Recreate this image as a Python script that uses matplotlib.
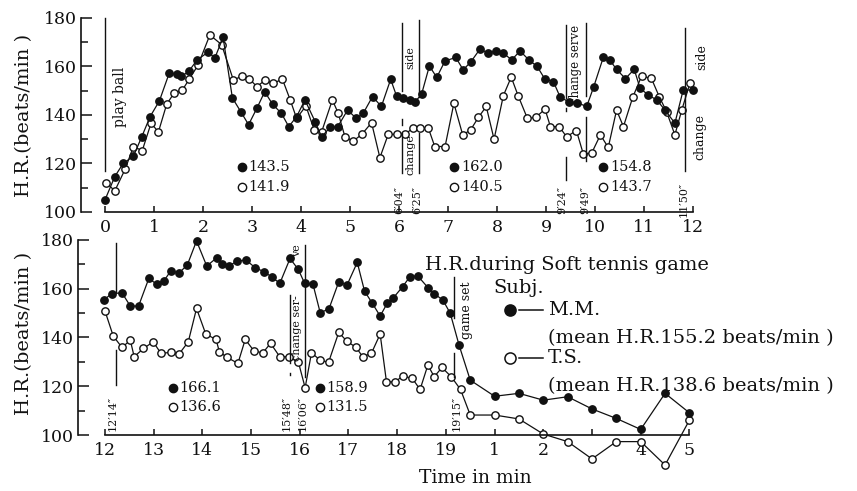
import numpy as np
import matplotlib
matplotlib.use("Agg")
import matplotlib.pyplot as plt
from matplotlib.lines import Line2D

# ---- data ------------------------------------------------------------------
# first half of the game (0-12 min), subject M.M. (filled) and T.S. (open)
t_mm_1 = [0.0, 0.2, 0.37, 0.58, 0.75, 0.92, 1.11, 1.31, 1.46, 1.56, 1.71, 1.88,
          2.11, 2.24, 2.41, 2.6, 2.77, 2.93, 3.1, 3.26, 3.42, 3.6, 3.75, 3.91,
          4.08, 4.29, 4.42, 4.6, 4.75, 4.95, 5.13, 5.27, 5.46, 5.64, 5.83, 5.95,
          6.09, 6.22, 6.33, 6.46, 6.62, 6.77, 6.94, 7.16, 7.31, 7.47, 7.65, 7.82,
          7.97, 8.13, 8.3, 8.47, 8.65, 8.82, 8.98, 9.15, 9.29, 9.46, 9.63, 9.83,
          9.97, 10.17, 10.3, 10.44, 10.62, 10.8, 10.92, 11.09, 11.26, 11.43,
          11.63, 11.8, 12.0]
hr_mm_1 = [105, 114.6, 120, 123, 131, 139.3, 145.8, 157.2, 157, 155.9, 158, 162.7,
           166, 163.4, 172, 147, 141.4, 136, 142.8, 149.6, 144.4, 140.7, 135.2, 139.3,
           146.2, 137.2, 131, 135, 135.2, 142, 138.6, 140.7, 147.6, 143.5, 154.7, 147.8,
           147.2, 146.2, 145.5, 148.5, 160.2, 155.5, 162.3, 163.7, 158.6, 162, 167.1, 165.5,
           166.4, 165.5, 162.7, 166.4, 162.7, 160, 154.7, 153.8, 147.3, 145.5, 145.1, 143.5,
           151.4, 163.8, 162.7, 158.8, 155, 158.8, 151, 148.2, 146.2, 142,
           136.6, 150.3, 150.3]
t_ts_1 = [0.03, 0.2, 0.41, 0.58, 0.76, 0.94, 1.09, 1.26, 1.41, 1.58, 1.72, 1.9,
          2.14, 2.38, 2.62, 2.79, 2.94, 3.1, 3.27, 3.43, 3.62, 3.78, 3.91, 4.1,
          4.27, 4.42, 4.64, 4.76, 4.9, 5.07, 5.24, 5.44, 5.61, 5.78, 5.95, 6.12,
          6.28, 6.43, 6.6, 6.73, 6.94, 7.12, 7.3, 7.46, 7.62, 7.78, 7.94, 8.13,
          8.29, 8.43, 8.62, 8.79, 8.98, 9.09, 9.27, 9.42, 9.62, 9.76, 9.93, 10.11,
          10.27, 10.44, 10.58, 10.77, 10.95, 11.15, 11.31, 11.46, 11.63, 11.77, 11.94]
hr_ts_1 = [112, 108.7, 117.6, 127, 125.3, 136.6, 133, 144.5, 149, 150.3, 154.8, 160.6,
           173, 169, 154.4, 156, 155, 151.7, 154.4, 153, 154.8, 146.2, 138.6, 143.7,
           133.8, 133, 146.2, 140.7, 130.8, 129.3, 132, 136.8, 122.4, 132, 132, 132,
           134.5, 134.5, 134.5, 127, 127, 144.8, 131.8, 133.8, 139, 143.5, 130, 148,
           155.6, 148, 138.6, 139, 142.4, 135.2, 135.2, 131, 133.6, 124, 124.2, 131.8,
           126.6, 142, 135.2, 147.3, 156, 155.1, 147.6, 141.4, 131.8, 142, 153.3]

# second half of the game (12-19'15")
t_mm_2 = [11.97, 12.14, 12.35, 12.52, 12.69, 12.9, 13.06, 13.21, 13.35, 13.52,
          13.69, 13.88, 14.09, 14.3, 14.4, 14.55, 14.71, 14.9, 15.08, 15.27,
          15.42, 15.59, 15.8, 15.97, 16.1, 16.27, 16.42, 16.6, 16.8, 16.97,
          17.18, 17.33, 17.49, 17.65, 17.8, 17.91, 18.11, 18.26, 18.42, 18.63,
          18.76, 18.94, 19.09, 19.27]
hr_mm_2 = [155.3, 158, 158.3, 152.9, 152.9, 164.2, 161.9, 163.2, 167.3, 166.5,
           169.7, 179.6, 169.3, 172.8, 170.1, 169.3, 171.4, 171.7, 168.7, 166.9,
           164.9, 162.2, 172.4, 167.9, 162.2, 161.9, 150.1, 151.8, 162.8, 161.5,
           170.8, 159, 154, 148.8, 154.2, 156, 160.8, 164.9, 165.3, 160.5,
           158, 155.3, 149.9, 136.9]
t_ts_2 = [12.0, 12.17, 12.35, 12.52, 12.6, 12.79, 12.99, 13.15, 13.35, 13.52,
          13.71, 13.88, 14.07, 14.28, 14.35, 14.51, 14.73, 14.88, 15.06, 15.24,
          15.4, 15.59, 15.78, 15.97, 16.11, 16.24, 16.42, 16.59, 16.8, 16.97,
          17.16, 17.29, 17.47, 17.65, 17.78, 17.96, 18.11, 18.31, 18.47, 18.63,
          18.76, 18.92, 19.11, 19.3]
hr_ts_2 = [150.9, 140.6, 135.9, 138.9, 132.1, 135.5, 138.2, 133.5, 133.9, 133.2,
           138.2, 151.9, 141.4, 139.2, 134.1, 131.8, 129.4, 139.2, 134.5, 133.7,
           137.6, 132.1, 132.1, 130, 119.4, 133.7, 130.7, 129.8, 142.1, 138.4,
           135.9, 132.1, 133.5, 141.4, 121.8, 121.8, 124.2, 123.2, 118.7, 128.7,
           123.9, 127.7, 123.9, 118.7]

# recovery after game set (min after the end)
t_rec = [0.5, 1.0, 1.5, 2.0, 2.5, 3.0, 3.5, 4.0, 4.5, 5.0]
hr_mm_rec = [122.5, 115.9, 117.1, 114.3, 115.7, 110.7, 106.8, 102.3, 117.1, 109.1]
hr_ts_rec = [108.2, 108.2, 106.6, 100.4, 97.3, 90.2, 97.3, 97.3, 87.7, 106.1]
game_end = 19

# section means (M.M., T.S.)
means_top = [(2.79, "143.5", "141.9"), (7.12, "162.0", "140.5"), (10.17, "154.8", "143.7")]
means_bot = [(13.39, "166.1", "136.6"), (16.41, "158.9", "131.5")]

xt_top = list(range(0, 13))
xt_bot = list(range(12, 20)) + [game_end + r for r in range(1, 6)]
xl_bot = [str(v) for v in range(12, 20)] + ["1", "2", "", "4", "5"]

# event markers: time, line pieces (hr from, hr to), time label
ev_top = [(6.067, [(150, 178), (136, 138.5), (116, 132.5)], "6′04″", 6.0),
          (6.417, [(147.5, 179), (116, 132.5)], "6′25″", 6.38),
          (9.4, [(147, 177), (141.5, 143), (113, 122.7)], "9′24″", 9.34),
          (9.817, [(148, 178), (121, 139)], "9′49″", 9.8),
          (11.833, [(117, 176)], "11′50″", 11.8)]
ev_bot = [(12.233, [(158.7, 178.8), (120.5, 134.9)], "12′14″", 12.15),
          (15.8, [(129.5, 157.4), (124.5, 125.6)], "15′48″", 15.72),
          (16.1, [(123.8, 178)], "16′06″", 16.05),
          (19.17, [(148, 164.8), (123.8, 133.6)], "19′15″", 19.23)]
notes_top = [("play ball", 0.3, 147.4, 10), ("side", 6.24, 163.5, 8),
             ("change", 6.24, 123.5, 8), ("change serve", 9.6, 161, 8.5),
             ("side", 12.18, 164, 9), ("change", 12.15, 131, 9)]
notes_bot = [("change ser-", 15.94, 144, 8), ("ve", 15.95, 175.5, 8),
             ("game set", 19.43, 151.3, 9)]

# ---- drawing ---------------------------------------------------------------
plt.rcParams['font.family'] = ['DejaVu Serif']
k = "#111111"
W, H = 857, 491


def fx(x):
    return x / W


def fy(y):
    return 1 - y / H


fig = plt.figure(figsize=(W / 100, H / 100), dpi=100)
ax1 = fig.add_axes([0.0945, 0.5633, 0.7313, 0.41])
ax2 = fig.add_axes([0.0910, 0.0395, 0.7305, 0.4817])


def style(ax, xlim, xb, ylim):
    ax.set_xlim(*xlim)
    ax.set_ylim(*ylim)
    for s in ["top", "right"]:
        ax.spines[s].set_visible(False)
    for s in ["left", "bottom"]:
        ax.spines[s].set_linewidth(1.2)
        ax.spines[s].set_color(k)
    ax.spines["left"].set_bounds(100, 180)
    ax.spines["bottom"].set_bounds(*xb)
    ax.spines["bottom"].set_position(("data", 100))
    ax.set_yticks(range(100, 181, 20))
    ax.set_yticks(range(110, 180, 20), minor=True)
    ax.tick_params(axis="y", which="major", direction="in", length=8, width=1.1,
                   pad=3, labelsize=12.5, colors=k)
    ax.tick_params(axis="y", which="minor", direction="in", length=5, width=1.1, colors=k)
    ax.tick_params(axis="x", direction="in", length=4, width=1.1, pad=5,
                   labelsize=12.5, colors=k)


def series(ax, t, h, filled):
    ax.plot(t, h, "-o", color=k, lw=0.9, ms=5.3, mew=1.0, mec=k,
            mfc=k if filled else "white", zorder=3 if filled else 2)


def events(ax, evs, y_lab):
    for t, segs, lab, xl in evs:
        for a, b in segs:
            ax.plot([t, t], [a, b], color=k, lw=1.0)
        ax.text(xl, y_lab, lab, rotation=90, ha="center", va="center",
                fontsize=8, color=k)


def means(ax, items, y1, y2):
    for t, a, b in items:
        ax.plot([t], [y1], "o", color=k, ms=6)
        ax.plot([t], [y2], "o", mfc="white", mec=k, ms=6, mew=1)
        ax.annotate(a, (t, y1), xytext=(5, 0), textcoords="offset points",
                    va="center", fontsize=10.5, color=k)
        ax.annotate(b, (t, y2), xytext=(5, 0), textcoords="offset points",
                    va="center", fontsize=10.5, color=k)


# top panel
style(ax1, (-0.49, 12.3), (0, 12), (99, 182))
ax1.set_xticks(xt_top)
series(ax1, t_ts_1, hr_ts_1, False)
series(ax1, t_mm_1, hr_mm_1, True)
ax1.plot([0, 0], [117, 180], color=k, lw=1.0)
events(ax1, ev_top, 105)
for s, t, h, fs in notes_top:
    ax1.text(t, h, s, rotation=90, ha="center", va="center", fontsize=fs, color=k)
means(ax1, means_top, 118.7, 110.4)

# bottom panel
style(ax2, (11.446, 24.3), (12, 24), (85, 182))
ax2.set_xticks(xt_bot)
ax2.set_xticklabels(xl_bot)
x_rec = [game_end + r for r in t_rec]
series(ax2, t_ts_2 + x_rec, hr_ts_2 + hr_ts_rec, False)
series(ax2, t_mm_2 + x_rec, hr_mm_2 + hr_mm_rec, True)
events(ax2, ev_bot, 109)
for s, t, h, fs in notes_bot:
    ax2.text(t, h, s, rotation=90, ha="center", va="center", fontsize=fs, color=k)
means(ax2, means_bot, 119.2, 111.6)

# axis titles
for yc in (115, 333):
    fig.text(fx(24), fy(yc), "H.R.(beats/min )", rotation=90, ha="center",
             va="center", fontsize=14, color=k)
fig.text(fx(475), fy(478), "Time in min", ha="center", va="center",
         fontsize=13.5, color=k)

# legend block
fig.text(fx(425), fy(265), "H.R.during Soft tennis game", va="center",
         fontsize=14, color=k)
fig.text(fx(493), fy(288), "Subj.", va="center", fontsize=14, color=k)
for yc, filled, name, mean in [(310, True, "M.M.", "(mean H.R.155.2 beats/min )"),
                               (358, False, "T.S.", "(mean H.R.138.6 beats/min )")]:
    fig.add_artist(Line2D([fx(510)], [fy(yc)], marker="o", ms=8, mew=1.1,
                          mec=k, mfc=k if filled else "white",
                          transform=fig.transFigure))
    fig.add_artist(Line2D([fx(519), fx(543)], [fy(yc), fy(yc)], color=k, lw=1.1,
                          transform=fig.transFigure))
    fig.text(fx(548), fy(yc), name, va="center", fontsize=14, color=k)
    fig.text(fx(548), fy(yc + 28), mean, va="center", fontsize=14, color=k)

fig.savefig("out.png", dpi=100, facecolor="white")
